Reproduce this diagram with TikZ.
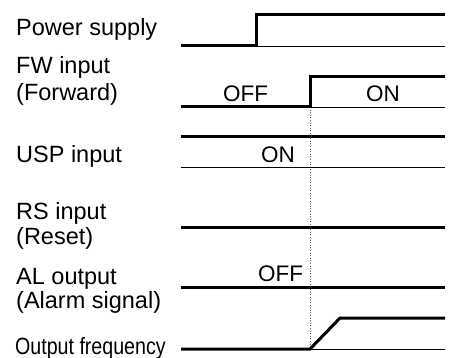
\documentclass[tikz,border=0pt]{standalone}
\usepackage{fontspec}
\setmainfont{Liberation Sans}
\begin{document}
\begin{tikzpicture}[x=1pt,y=-1pt,
  lbl/.style={anchor=base west,inner sep=0pt,font=\fontsize{23.5}{28}\selectfont},
  val/.style={anchor=base,inner sep=0pt,font=\fontsize{22.5}{27}\selectfont},
  sig/.style={line width=3pt,line join=miter},
  base/.style={line width=0.9pt},
  guide/.style={line width=0.6pt,dotted,gray!70!black}]
\useasboundingbox (0,0) rectangle (449,358);
% labels
\node[lbl] (lps) at (16,36) {Power supply};
\node[lbl] (lfw) at (16,74) {FW input};
\node[lbl] (lfw2) at (16,101) {(Forward)};
\node[lbl] (lusp) at (16,162) {USP input};
\node[lbl] (lrs) at (16,219) {RS input};
\node[lbl] (lrs2) at (16,244) {(Reset)};
\node[lbl] (lal) at (16,284) {AL output};
\node[lbl] (lal2) at (16,308) {(Alarm signal)};
\node[lbl,xscale=0.835,anchor=base west] (lof) at (15,354) {Output frequency};
% state texts
\node[val] (fwoff) at (245.5,101.5) {OFF};
\node[val] (fwon) at (383,101.5) {ON};
\node[val] (uspon) at (278,163) {ON};
\node[val] (aloff) at (280.5,281.5) {OFF};
% coordinates
\coordinate (ps0) at (181,46); \coordinate (ps1) at (256,46);
\coordinate (ps2) at (256,15); \coordinate (ps3) at (445,15);
\coordinate (ps4) at (445,46);
\coordinate (fw0) at (181,107); \coordinate (fw1) at (310,107);
\coordinate (fw2) at (310,77); \coordinate (fw3) at (445,77);
\coordinate (fw4) at (445,107);
\coordinate (us0) at (181,137); \coordinate (us1) at (445,137);
\coordinate (ub0) at (181,167); \coordinate (ub1) at (445,167);
\coordinate (rs0) at (181,227); \coordinate (rs1) at (445,227);
\coordinate (al0) at (181,287); \coordinate (al1) at (445,287);
\coordinate (of0) at (181,349); \coordinate (of1) at (310,349);
\coordinate (of2) at (340,318); \coordinate (of3) at (445,318);
\coordinate (of4) at (445,349);
% guide
\draw[guide] (fw1) -- (of1);
% baselines
\draw[base] (ps1) -- (ps4);
\draw[base] (fw1) -- (fw4);
\draw[base] (ub0) -- (ub1);
\draw[base] (of1) -- (of4);
% signals
\draw[sig] (ps0) -- (ps1) -- (ps2) -- (ps3);
\draw[sig] (fw0) -- (fw1) -- (fw2) -- (fw3);
\draw[sig] (us0) -- (us1);
\draw[sig] (rs0) -- (rs1);
\draw[sig] (al0) -- (al1);
\draw[sig] (of0) -- (of1) -- (of2) -- (of3);
\end{tikzpicture}
\end{document}
